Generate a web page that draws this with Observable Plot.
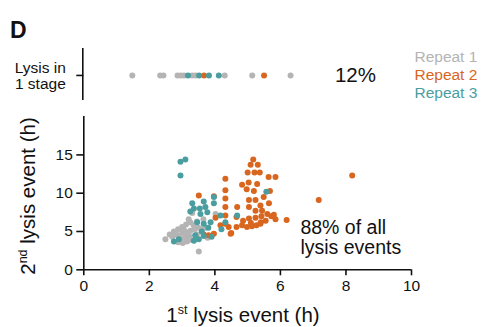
<!DOCTYPE html>
<html>
<head>
<meta charset="utf-8">
<script src="https://cdn.jsdelivr.net/npm/d3@7"></script>
<script src="https://cdn.jsdelivr.net/npm/@observablehq/plot@0.6"></script>
<style>
  html, body { margin: 0; padding: 0; background: #fff; }
  #chart { width: 481px; height: 327px; }
</style>
</head>
<body>
<div id="chart"></div>
<script>
// ---- data ----
const seriesNames = ["Repeat 1", "Repeat 2", "Repeat 3"];
const seriesColors = ["#b4b4b4", "#d8661e", "#4b9e9f"];

// Lysis in 1 stage (first lysis time, h)
const strip1 = [1.48, 2.33, 2.43, 2.86, 2.96, 3.06, 3.31, 3.41, 4.30, 5.14, 6.31];
const strip2 = [3.67, 5.50];
const strip3 = [3.18, 3.52, 3.82, 4.12];

// Two-stage lysis: [1st event (h), 2nd event (h)]
const rep1 = [[2.49,4.0],[2.62,4.6],[2.75,5.0],[2.88,5.3],[3.0,5.6],[3.12,5.9],[3.25,6.2],[3.2,6.6],[3.31,7.4],[4.02,7.3],
  [2.7,4.3],[2.85,4.5],[3.0,4.8],[3.12,4.9],[3.25,5.1],[3.38,5.3],[3.5,5.5],[2.95,4.1],[3.1,4.2],[3.22,4.4],
  [2.88,3.6],[3.02,3.5],[3.15,3.7],[3.3,3.9],[3.45,4.6],[3.6,5.3],[3.72,5.5],[3.51,2.4],[3.35,5.8],[3.05,5.3],
  [2.8,4.8],[3.45,6.3],[3.65,6.6],[3.78,4.2]];
const rep2 = [[8.19,12.3],[7.17,9.1],[6.19,6.5],[5.17,14.4],[5.09,13.7],[5.31,13.7],[5.0,12.7],[5.21,12.7],[5.37,12.7],[5.64,12.1],
  [5.85,12.1],[4.83,11.1],[5.03,11.4],[5.29,11.2],[4.97,10.5],[5.19,10.3],[5.68,10.3],[4.32,11.9],[4.32,10.4],[4.32,9.3],
  [4.32,8.2],[4.32,7.1],[4.32,6.0],[3.97,9.6],[3.51,9.7],[5.04,9.1],[5.24,9.1],[5.49,9.5],[5.39,8.4],[5.65,8.7],
  [4.68,8.2],[5.04,8.2],[5.6,7.3],[5.8,7.2],[5.24,7.7],[5.44,7.7],[4.66,6.9],[4.86,6.4],[5.04,6.7],[5.24,6.8],
  [5.42,7.0],[5.72,7.0],[5.4,6.2],[4.83,5.8],[4.98,5.6],[5.13,5.7],[5.27,5.8],[5.39,6.0],[4.66,5.6],[4.42,5.6],
  [4.5,4.8],[3.97,4.7],[3.81,4.5],[3.66,4.6],[4.17,5.8],[4.02,6.8],[4.48,4.7],[5.55,6.4],[5.85,6.6],[5.1,6.1]];
const rep3 = [[2.95,14.1],[3.1,14.4],[2.95,12.3],[5.57,10.2],[3.31,8.7],[3.66,8.9],[3.97,9.5],[3.97,8.7],[3.36,8.0],[3.54,8.0],
  [3.71,8.2],[3.56,7.3],[3.77,7.5],[4.17,7.1],[4.68,7.1],[3.87,6.2],[3.66,6.0],[3.46,6.2],[3.36,3.8],[3.51,4.0],
  [2.75,3.7],[2.9,4.0],[3.66,4.4],[3.6,5.0],[3.8,5.5],[4.32,6.2],[3.25,7.6],[4.2,5.3],[3.9,4.3],[3.4,4.5]];

const xTicks = [0, 2, 4, 6, 8, 10];
const yTicks = [0, 5, 10, 15];
const stripLabel = "Lysis in\n1 stage";
const stripPct = "12%";
const mainPct = "88% of all\nlysis events";
const panelLetter = "D";

// ---- layout (scale units) ----
const Y_MAIN_TOP = 20;
const STRIP_Y = 25.37;
const STRIP_LO = 22.1, STRIP_HI = 28.9;

const toPts = (arr, s) => arr.map(([a, b]) => ({x: a, y: b, s}));
const scatter = [...toPts(rep1, seriesNames[0]), ...toPts(rep2, seriesNames[1]), ...toPts(rep3, seriesNames[2])];
const strip = [
  ...strip1.map(x => ({x, s: seriesNames[0]})),
  ...strip2.map(x => ({x, s: seriesNames[1]})),
  ...strip3.map(x => ({x, s: seriesNames[2]}))
];
const legend = seriesNames.map((s, i) => ({s, y: STRIP_Y + (1 - i) * 2.35}));

const font = "'Liberation Sans', Arial, Helvetica, sans-serif";

const chart = Plot.plot({
  width: 481,
  height: 327,
  marginLeft: 83.3,
  marginRight: 70,
  marginTop: 16.5,
  marginBottom: 57.7,
  style: {fontFamily: font, background: "#fff", color: "#111", overflow: "visible"},
  x: {domain: [0, 10]},
  y: {domain: [0, 33]},
  color: {domain: seriesNames, range: seriesColors},
  marks: [
    Plot.ruleY([0], {stroke: "#111", strokeWidth: 1.6}),
    Plot.ruleX([0], {y1: 0, y2: Y_MAIN_TOP, stroke: "#111", strokeWidth: 1.6}),
    Plot.ruleX([0], {y1: STRIP_LO, y2: STRIP_HI, stroke: "#111", strokeWidth: 1.6, dx: -1}),
    Plot.axisX({ticks: xTicks, tickSize: 6, tickPadding: 4, fontSize: 15.5, label: null, strokeWidth: 1.6}),
    Plot.axisY({ticks: yTicks, tickSize: 7, tickPadding: 4, fontSize: 15.5, label: null, strokeWidth: 1.6}),
    Plot.axisY({ticks: [STRIP_Y], tickSize: 7, tickPadding: 11, fontSize: 15.5, label: null, strokeWidth: 1.6,
      tickFormat: () => stripLabel, lineHeight: 1.05}),
    Plot.dot(strip, {x: "x", y: () => STRIP_Y, fill: "s", r: 3}),
    Plot.dot(scatter, {x: "x", y: "y", fill: "s", r: 3}),
    Plot.text([stripPct], {x: 8.29, y: STRIP_Y, fontSize: 20.5, fill: "#111"}),
    Plot.text([mainPct], {x: 6.61, y: 4.26, fontSize: 19.5, textAnchor: "start", fill: "#111", lineHeight: 1.04}),
    Plot.text(legend, {x: 10.09, y: "y", text: "s", fill: "s", fontSize: 15.5, textAnchor: "start"}),
    Plot.text([panelLetter], {frameAnchor: "top-left", dx: -73.8, dy: 4.5, fontSize: 23, fontWeight: "bold", textAnchor: "start", fill: "#111"})
  ]
});

document.getElementById("chart").appendChild(chart);

// axis titles with superscripts
const svg = d3.select(chart);
const xt = svg.append("text")
  .attr("x", 243).attr("y", 321.5)
  .attr("text-anchor", "middle")
  .attr("font-family", font).attr("font-size", 20.5).attr("fill", "#111");
xt.append("tspan").text("1");
xt.append("tspan").attr("font-size", 12.5).attr("dy", -8).text("st");
xt.append("tspan").attr("dy", 8).text(" lysis event (h)");

const yt = svg.append("text")
  .attr("transform", "translate(35,196) rotate(-90)")
  .attr("text-anchor", "middle")
  .attr("font-family", font).attr("font-size", 20.5).attr("fill", "#111");
yt.append("tspan").text("2");
yt.append("tspan").attr("font-size", 12.5).attr("dy", -8).text("nd");
yt.append("tspan").attr("dy", 8).text(" lysis event (h)");
</script>
</body>
</html>
